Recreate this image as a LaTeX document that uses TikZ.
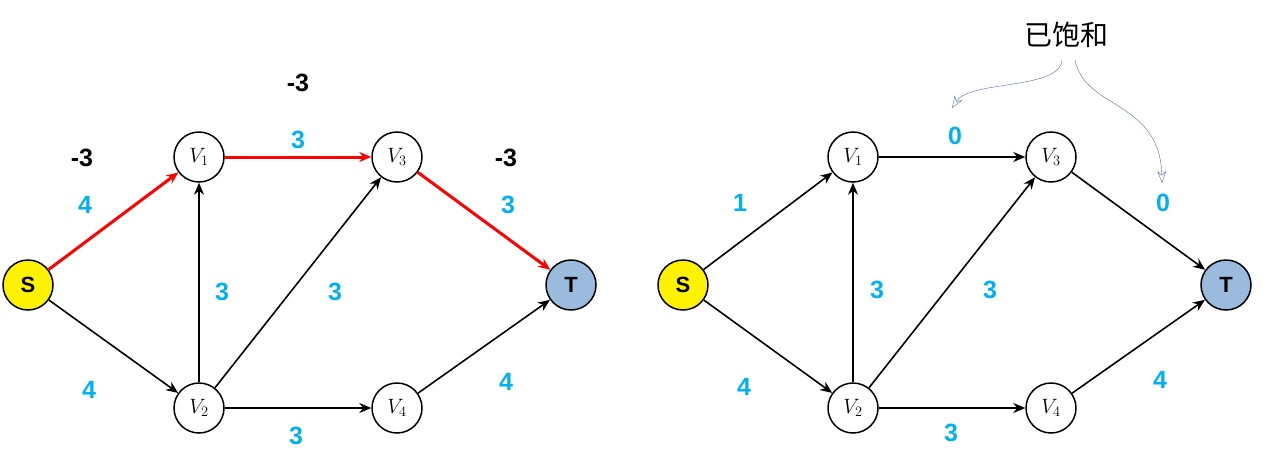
\documentclass[tikz,border=0pt]{standalone}
\usepackage{fontspec}
\setmainfont{Liberation Sans}
\newfontfamily\cjk{Noto Sans CJK SC}
\usetikzlibrary{arrows.meta}
\definecolor{cy}{RGB}{0,176,240}
\definecolor{tb}{RGB}{155,187,222}
\definecolor{ab}{RGB}{80,110,170}
\begin{document}
\begin{tikzpicture}[x=1pt,y=-1pt,
 v/.style={circle,draw,line width=1.5pt,minimum size=50pt,inner sep=0pt,font=\fontsize{22}{24}\selectfont},
 e/.style={-{Stealth[length=12pt,width=10pt]},line width=1.6pt},
 r/.style={e,red,line width=3pt},
 c/.style={font=\bfseries\fontsize{25}{28}\selectfont,text=cy},
 k/.style={font=\bfseries\fontsize{25}{28}\selectfont}]
\useasboundingbox (0,0) rectangle (1284,475);
\node[v,fill=yellow] (S) at (28,285) {\textbf{S}};
\node[v] (A1) at (199,157) {$V_1$};
\node[v] (A3) at (397,157) {$V_3$};
\node[v,fill=tb] (T) at (571,285) {\textbf{T}};
\node[v] (A2) at (199,408) {$V_2$};
\node[v] (A4) at (397,408) {$V_4$};
\draw[r] (S)--(A1); \draw[r] (A1)--(A3); \draw[r] (A3)--(T);
\draw[e] (S)--(A2); \draw[e] (A2)--(A1); \draw[e] (A2)--(A3);
\draw[e] (A2)--(A4); \draw[e] (A4)--(T);
\node[k] (l1) at (82,158) {-3}; \node[c] (l2) at (85,205) {4};
\node[k] (l3) at (298,83) {-3}; \node[c] (l4) at (298,140) {3};
\node[k] (l5) at (506,158) {-3}; \node[c] (l6) at (508,205) {3};
\node[c] (l7) at (222,292) {3}; \node[c] (l8) at (335,292) {3};
\node[c] (l9) at (89,390) {4}; \node[c] (l10) at (296,436) {3};
\node[c] (l11) at (506,382) {4};
\node[v,fill=yellow] (S') at (683,285) {\textbf{S}};
\node[v] (B1) at (853,157) {$V_1$};
\node[v] (B3) at (1051,157) {$V_3$};
\node[v,fill=tb] (T') at (1226,285) {\textbf{T}};
\node[v] (B2) at (853,408) {$V_2$};
\node[v] (B4) at (1051,408) {$V_4$};
\draw[e] (S')--(B1); \draw[e] (B1)--(B3); \draw[e] (B3)--(T');
\draw[e] (S')--(B2); \draw[e] (B2)--(B1); \draw[e] (B2)--(B3);
\draw[e] (B2)--(B4); \draw[e] (B4)--(T');
\node[c] (m1) at (740,203) {1}; \node[c] (m2) at (955,136) {0};
\node[c] (m3) at (1163,203) {0}; \node[c] (m4) at (877,290) {3};
\node[c] (m5) at (990,290) {3}; \node[c] (m6) at (744,387) {4};
\node[c] (m7) at (951,433) {3}; \node[c] (m8) at (1160,380) {4};
\node[font=\cjk\fontsize{28}{30}\selectfont] (bh) at (1066,35) {已饱和};
\coordinate (p1) at (1062,60); \coordinate (q1) at (952,108);
\coordinate (p2) at (1075,60); \coordinate (q2) at (1162,183);
\draw[ab,-{Stealth[length=12pt,width=9pt,open]}] (p1) .. controls (1060,90) and (970,80) .. (q1);
\draw[ab,-{Stealth[length=12pt,width=9pt,open]}] (p2) .. controls (1085,110) and (1160,100) .. (q2);
\end{tikzpicture}
\end{document}
